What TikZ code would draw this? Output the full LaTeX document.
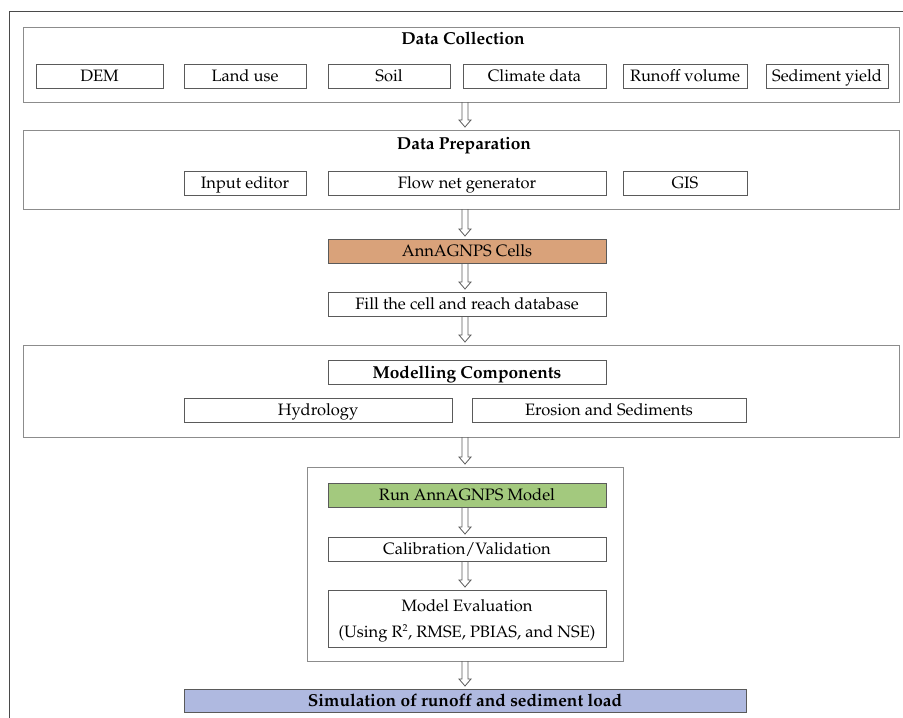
\documentclass[tikz,border=0pt]{standalone}
\usepackage[T1]{fontenc}
\usepackage{mathpazo}
\usetikzlibrary{calc}
\definecolor{framegray}{HTML}{8C8C8C}
\definecolor{boxgray}{HTML}{5A5A5A}
\definecolor{outergray}{HTML}{4A4A4A}
\definecolor{cellsfill}{HTML}{D9A27A}
\definecolor{runfill}{HTML}{A3C97E}
\definecolor{simfill}{HTML}{AFB9E0}
% #1 style, #2 x1, #3 y1, #4 x2, #5 y2, #6 name
\newcommand\mybox[6]{\node[#1, minimum width={#4-#2}, minimum height={#5-#3}] (#6) at (#2,#3)}
% hollow arrow from node #1 to node #2
\newcommand\harrow[2]{\draw[harr] ($(#1.south-|ax)+(-3,0)$) |- ($(#2.north-|ax)+(-6,-10)$) -- ($(#2.north-|ax)+(0,-3)$) -- ($(#2.north-|ax)+(6,-10)$) -| ($(#1.south-|ax)+(3,0)$);}
\begin{document}
\begin{tikzpicture}[x=1pt,y=-1pt,
  every node/.style={font=\fontsize{16.5}{20}\selectfont, inner sep=0pt, outer sep=0pt, text height=11.5pt, text depth=0pt},
  bf/.style={font=\fontsize{17.3}{20}\selectfont\bfseries, text height=12pt},
  frame/.style={draw=framegray, line width=0.8pt, anchor=north west},
  box/.style={draw=boxgray, line width=0.8pt, anchor=north west, align=center},
  harr/.style={draw=boxgray, line width=0.8pt, line join=miter},
  outer/.style={draw=outergray, line width=1pt}]
\useasboundingbox (0,0) rectangle (903,718);
\coordinate (ax) at (465,0);
\coordinate (ofl) at (9,718);
\coordinate (ofc) at (9,11);
\coordinate (ofr) at (903,11);
\draw[outer] (ofl) -- (ofc) -- (ofr);

% Data Collection
\mybox{frame}{23}{27}{899}{102}{dc} {};
\node[bf] (dctitle) at (463,38.5) {Data Collection};
\mybox{box}{36}{64}{163}{88}{dem} {DEM};
\mybox{box}{184}{64}{306}{88}{land} {Land use};
\mybox{box}{328}{64}{450}{88}{soil} {Soil};
\mybox{box}{463}{64}{606}{88}{clim} {Climate data};
\mybox{box}{623}{64}{747}{88}{runoff} {Runoff volume};
\mybox{box}{766}{64}{888}{88}{sedy} {Sediment yield};

% Data Preparation
\mybox{frame}{23}{130}{899}{209}{dp} {};
\node[bf] (dptitle) at (464,143.5) {Data Preparation};
\mybox{box}{184}{171}{306}{195}{inp} {Input editor};
\mybox{box}{328}{171}{606}{195}{flow} {Flow net generator};
\mybox{box}{623}{171}{747}{195}{gis} {GIS};

% Cells
\mybox{box, fill=cellsfill}{328}{239}{606}{263}{cells} {AnnAGNPS Cells};
\mybox{box}{328}{292}{606}{316}{fill} {Fill the cell and reach database};

% Modelling
\mybox{frame}{23}{345}{899}{437}{mc} {};
\mybox{box, bf}{328}{360}{606}{384}{mctitle} {Modelling Components};
\mybox{box}{184}{398}{452}{422}{hyd} {Hydrology};
\mybox{box}{472}{398}{746}{422}{eros} {Erosion and Sediments};

% Inner run frame
\mybox{frame}{307}{467}{623}{661}{runf} {};
\mybox{box, fill=runfill}{328}{483}{606}{507}{run} {Run AnnAGNPS Model};
\mybox{box}{328}{537}{606}{561}{calib} {Calibration/Validation};
\mybox{box, text height=37.5pt}{328}{590}{606}{647}{eval} {Model Evaluation\\[6pt](Using R\textsuperscript{\fontsize{10}{10}\selectfont 2}, RMSE, PBIAS, and NSE)};

% Simulation
\mybox{box, fill=simfill, bf}{184}{689}{746}{712}{sim} {Simulation of runoff and sediment load};

% Arrows
\harrow{dc}{dp}
\harrow{dp}{cells}
\harrow{cells}{fill}
\harrow{fill}{mc}
\harrow{mc}{runf}
\harrow{run}{calib}
\harrow{calib}{eval}
\harrow{runf}{sim}
\end{tikzpicture}
\end{document}
